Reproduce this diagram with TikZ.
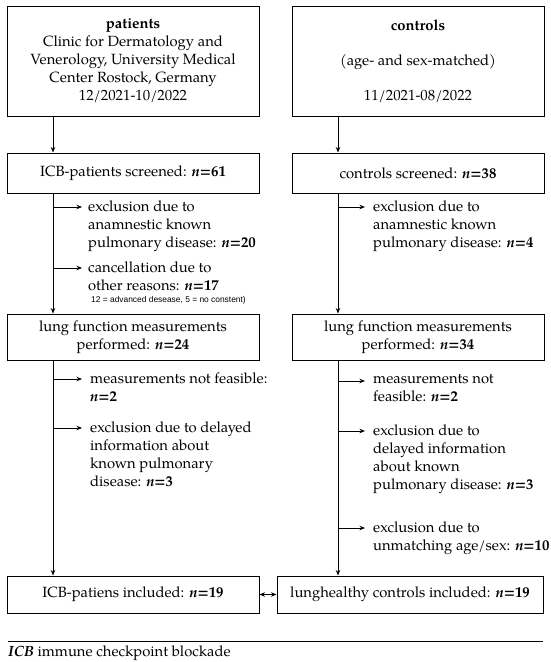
\documentclass[tikz,border=0pt]{standalone}
\usepackage{fontspec}
\setmainfont{TeX Gyre Pagella}
\newfontfamily\smallsans{Liberation Sans}
\usetikzlibrary{arrows.meta}
\begin{document}
\begin{tikzpicture}[x=1pt,y=-1pt,
  every node/.style={font=\fontsize{14.8}{18}\selectfont},
  box/.style={draw,line width=1pt,align=center,inner sep=0pt},
  side/.style={anchor=north west,align=left,inner sep=0pt},
  conn/.style={line width=0.9pt,-{Stealth[length=5.5pt,width=4.5pt]}},
  sarr/.style={conn,shorten >=6pt},
  line/.style={line width=0.8pt}]
\useasboundingbox (0,0) rectangle (550,662);
\newcommand{\nn}[1]{\textbf{\textit{n}=#1}}
\coordinate (lx) at (53,0);
\coordinate (rx) at (338,0);
% boxes
\node[box,minimum width=252,minimum height=110] (p0) at (133,61)
  {\textbf{patients}\\Clinic for Dermatology and\\Venerology, University Medical\\Center Rostock, Germany\\12/2021-10/2022};
\node[box,minimum width=252,minimum height=110] (c0) at (418,61)
  {\textbf{controls}\\[17pt](age- and sex-matched)\\[17pt]11/2021-08/2022};
\node[box,minimum width=252,minimum height=40] (p1) at (133,173) {ICB-patients screened: \nn{61}};
\node[box,minimum width=252,minimum height=40] (c1) at (418,173) {controls screened: \nn{38}};
\node[box,minimum width=252,minimum height=46] (p2) at (133,337) {lung function measurements\\performed: \nn{24}};
\node[box,minimum width=252,minimum height=46] (c2) at (418,337) {lung function measurements\\performed: \nn{34}};
\node[box,minimum width=252,minimum height=37] (p3) at (133,594.5) {ICB-patiens included: \nn{19}};
\node[box,minimum width=266,minimum height=37] (c3) at (410,594.5) {lunghealthy controls included: \nn{19}};
% side texts
\node[side] (e1) at (88,200.5) {exclusion due to\\anamnestic known\\pulmonary disease: \nn{20}};
\node[side] (e2) at (88,261.5) {cancellation due to\\other reasons: \nn{17}};
\node[anchor=west,inner sep=0pt,font=\smallsans\fontsize{8.4}{10}\selectfont] (e2s) at (91,300) {12 = advanced desease, 5 = no constent)};
\node[side] (e3) at (90,372.5) {measurements not feasible:\\\nn{2}};
\node[side] (e4) at (90,421.5) {exclusion due to delayed\\information about\\known pulmonary\\disease: \nn{3}};
\node[side] (f1) at (373,200.5) {exclusion due to\\anamnestic known\\pulmonary disease: \nn{4}};
\node[side] (f3) at (373,374.5) {measurements not\\feasible: \nn{2}};
\node[side] (f4) at (373,424.5) {exclusion due to\\delayed information\\about known\\pulmonary disease: \nn{3}};
\node[side] (f5) at (373,521.5) {exclusion due to\\unmatching age/sex: \nn{10}};
% vertical flow
\draw[conn] (p0.south -| lx) -- (p1.north -| lx);
\draw[conn] (c0.south -| rx) -- (c1.north -| rx);
\draw[conn] (p1.south -| lx) -- (p2.north -| lx);
\draw[conn] (c1.south -| rx) -- (c2.north -| rx);
\draw[conn] (p2.south -| lx) -- (p3.north -| lx);
\draw[conn] (c2.south -| rx) -- (c3.north -| rx);
% side arrows
\coordinate (a1) at (53,207); \draw[sarr] (a1) -- (a1 -| e1.west);
\coordinate (a2) at (53,268); \draw[sarr] (a2) -- (a2 -| e2.west);
\coordinate (a3) at (53,379); \draw[sarr,shorten >=8pt] (a3) -- (a3 -| e3.west);
\coordinate (a4) at (53,428); \draw[sarr,shorten >=8pt] (a4) -- (a4 -| e4.west);
\coordinate (b1) at (338,207); \draw[sarr,shorten >=8pt] (b1) -- (b1 -| f1.west);
\coordinate (b3) at (338,381); \draw[sarr,shorten >=8pt] (b3) -- (b3 -| f3.west);
\coordinate (b4) at (338,431); \draw[sarr,shorten >=8pt] (b4) -- (b4 -| f4.west);
\coordinate (b5) at (338,528); \draw[sarr,shorten >=8pt] (b5) -- (b5 -| f5.west);
% double arrow
\draw[line width=0.9pt,{Stealth[length=5.5pt,width=4.5pt]}-{Stealth[length=5.5pt,width=4.5pt]}] (p3.east) -- (c3.west);
% footnote
\coordinate (r1) at (8,641); \coordinate (r2) at (543,641);
\draw[line width=0.6pt] (r1) -- (r2);
\node[anchor=west,inner sep=0pt] (cap) at (8,653) {\textbf{\textit{ICB}} immune checkpoint blockade};
\end{tikzpicture}
\end{document}
